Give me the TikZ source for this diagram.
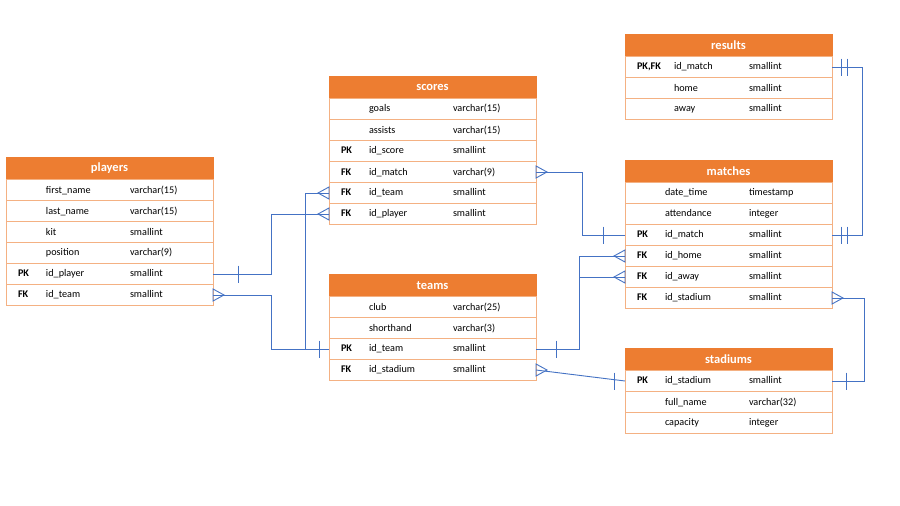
\documentclass[tikz,border=0pt]{standalone}
\usepackage{fontspec}
\setmainfont{Carlito}
\definecolor{headorange}{RGB}{237,125,49}
\definecolor{lineorange}{RGB}{244,177,131}
\definecolor{linkblue}{RGB}{68,114,196}
\tikzset{
    headbox/.style = {draw=headorange, fill=headorange, text=white, font=\fontsize{12.5}{15}\bfseries\selectfont,
        minimum width=207pt, minimum height=22.5pt, inner sep=0pt, outer sep=0pt, anchor=north west},
    rowbox/.style = {draw=lineorange, line width=0.8pt, minimum height=21pt, text width=183pt, inner xsep=12pt,
        inner ysep=0pt, outer sep=0pt, align=left, font=\fontsize{10.2}{12}\selectfont, anchor=north west},
    link/.style = {draw=linkblue, line width=0.9pt},
    many/.pic = {\draw[link] (0,-6) -- (-11,0) -- (0,6) -- cycle;},
    one/.pic = {\draw[link] (0,-8.5) -- (0,8.5);},
    onlyone/.pic = {\draw[link] (0,-8.5) -- (0,8.5) (6,-8.5) -- (6,8.5);}
}
% #1 table name, #2 top left corner, #3 width of the key column, #4 rows key/field/type
\newcommand{\entity}[4]{
    \node[headbox] (#1) at (#2) {#1};
    \foreach \key/\field/\type [count=\i] in {#4}{
        \node[rowbox] (#1-\i) at ([yshift=-(\i-1)*21pt]#1.south west)
            {\makebox[#3][l]{\textbf{\key}}\makebox[\dimexpr112pt-#3\relax][l]{\field}\type};
    }
}

\begin{document}
\begin{tikzpicture}[x=1pt, y=-1pt]
    \fill[white] (0,0) rectangle (900,506);
    % draw the tables
    \entity{players}{6,157}{28pt}{/first\_name/varchar(15), /last\_name/varchar(15), /kit/smallint,
        /position/varchar(9), PK/id\_player/smallint, FK/id\_team/smallint}
    \entity{scores}{329,76}{28pt}{/goals/varchar(15), /assists/varchar(15), PK/id\_score/smallint,
        FK/id\_match/varchar(9), FK/id\_team/smallint, FK/id\_player/smallint}
    \entity{teams}{329,274}{28pt}{/club/varchar(25), /shorthand/varchar(3), PK/id\_team/smallint,
        FK/id\_stadium/smallint}
    \entity{results}{625,34}{37pt}{{PK,FK}/id\_match/smallint, /home/smallint, /away/smallint}
    \entity{matches}{625,160}{28pt}{/date\_time/timestamp, /attendance/integer, PK/id\_match/smallint,
        FK/id\_home/smallint, FK/id\_away/smallint, FK/id\_stadium/smallint}
    \entity{stadiums}{625,348}{28pt}{PK/id\_stadium/smallint, /full\_name/varchar(32), /capacity/integer}
    % draw the relations
    \draw[link] (players-5.east) -- ++(58,0) |- (scores-6.west);
    \draw[link] (players-6.east) -- ++(58,0) |- (teams-3.west);
    \draw[link] (scores-5.west) -- ++(-24,0) |- (teams-3.west);
    \draw[link] (scores-4.east) -- ++(46,0) |- (matches-3.west);
    \draw[link] (teams-3.east) -- ++(43,0) |- (matches-4.west);
    \draw[link] (teams-3.east) -- ++(43,0) |- (matches-5.west);
    \draw[link] (teams-4.east) -- (stadiums-1.west);
    \draw[link] (matches-6.east) -- ++(32,0) |- (stadiums-1.east);
    \draw[link] (results-1.east) -- ++(30,0) |- (matches-3.east);
    % crow's feet (many side)
    \foreach \row in {scores-6, scores-5, matches-4, matches-5}{
        \pic at (\row.west) {many};
    }
    \foreach \row in {players-6, scores-4, teams-4, matches-6}{
        \pic[xscale=-1] at (\row.east) {many};
    }
    % bars (one side)
    \pic at ([xshift=25pt]players-5.east) {one};
    \pic at ([xshift=-10pt]teams-3.west) {one};
    \pic at ([xshift=-22pt]matches-3.west) {one};
    \pic at ([xshift=20pt]teams-3.east) {one};
    \pic at ([xshift=-11pt]stadiums-1.west) {one};
    \pic at ([xshift=14pt]stadiums-1.east) {one};
    \pic at ([xshift=9pt]results-1.east) {onlyone};
    \pic at ([xshift=9pt]matches-3.east) {onlyone};
\end{tikzpicture}
\end{document}
